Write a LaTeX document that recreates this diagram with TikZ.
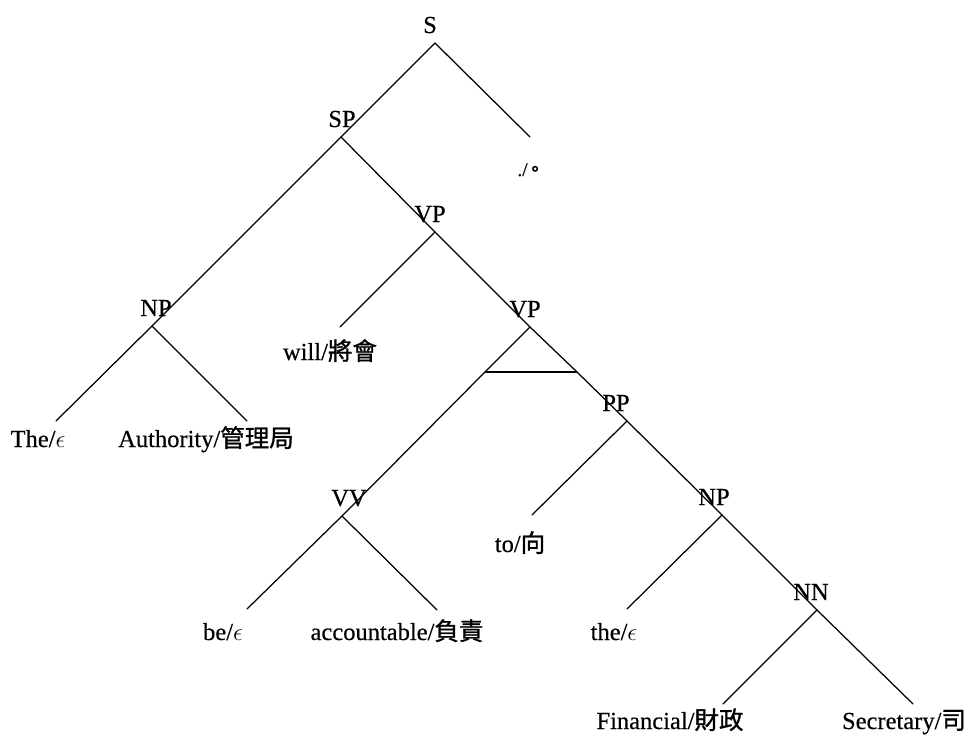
\documentclass[tikz,border=0pt]{standalone}
\usepackage{fontspec}
\setmainfont{Liberation Serif}[FakeBold=0.4]
\newfontfamily\cjk{Noto Sans CJK TC}[FakeBold=1.2]
\begin{document}
\begin{tikzpicture}[x=1pt,y=-1pt,
  lab/.style={font=\fontsize{24.5}{28}\selectfont, inner sep=0pt, anchor=base},
  small/.style={font=\fontsize{19}{22}\selectfont, inner sep=0pt, anchor=base},
  branch/.style={line width=1.25pt, line cap=round}]
\useasboundingbox (0,0) rectangle (972,742);
% tree points
\coordinate (s) at (435,43);
\coordinate (sp) at (341,137);
\coordinate (dotend) at (530,137);
\coordinate (vp1) at (435,232);
\coordinate (np1) at (152,326);
\coordinate (theend) at (56,421);
\coordinate (authend) at (247,421);
\coordinate (willend) at (340,327);
\coordinate (vp2) at (530,327);
\coordinate (tl) at (485,372);
\coordinate (tr) at (577,372);
\coordinate (vv) at (342,516);
\coordinate (beend) at (247,609);
\coordinate (accend) at (437,610);
\coordinate (pp) at (627,421);
\coordinate (toend) at (532,515);
\coordinate (np2) at (722,515);
\coordinate (thesend) at (627,609);
\coordinate (nn) at (817,610);
\coordinate (finend) at (723,704);
\coordinate (secend) at (913,704);
% nonterminal labels
\node[lab] (Sl) at (430,33) {S};
\node[lab] (SPl) at (342,127) {SP};
\node[lab] (VP1l) at (430,222) {VP};
\node[lab] (NP1l) at (156,316) {NP};
\node[lab] (VP2l) at (525,317) {VP};
\node[lab] (VVl) at (349,506) {VV};
\node[lab] (PPl) at (616,411) {PP};
\node[lab] (NP2l) at (714,505) {NP};
\node[lab] (NNl) at (811,600) {NN};
% terminal labels
\node[small] (dot) at (531,176) {./\kern-2pt{\cjk 。}};
\node[lab] (the) at (38,447) {The/$\epsilon$};
\node[lab] (auth) at (206,447) {Authority/{\cjk 管理局}};
\node[lab] (will) at (330,360) {will/{\cjk 將會}};
\node[lab] (be) at (223,640) {be/$\epsilon$};
\node[lab] (acc) at (397,640) {accountable/{\cjk 負責}};
\node[lab] (to) at (520,552) {to/{\cjk 向}};
\node[lab] (thes) at (614,640) {the/$\epsilon$};
\node[lab] (fin) at (670,729) {Financial/{\cjk 財政}};
\node[lab] (sec) at (904,729) {Secretary/{\cjk 司}};
% branches
\draw[branch] (s) -- (sp);
\draw[branch] (s) -- (dotend);
\draw[branch] (sp) -- (np1);
\draw[branch] (sp) -- (vp1);
\draw[branch] (np1) -- (theend);
\draw[branch] (np1) -- (authend);
\draw[branch] (vp1) -- (willend);
\draw[branch] (vp1) -- (vp2);
\draw[branch] (vp2) -- (tl) -- (vv);
\draw[branch] (vp2) -- (tr) -- (pp);
\draw[branch] (tl) -- (tr);
\draw[branch] (vv) -- (beend);
\draw[branch] (vv) -- (accend);
\draw[branch] (pp) -- (toend);
\draw[branch] (pp) -- (np2);
\draw[branch] (np2) -- (thesend);
\draw[branch] (np2) -- (nn);
\draw[branch] (nn) -- (finend);
\draw[branch] (nn) -- (secend);
\end{tikzpicture}
\end{document}
